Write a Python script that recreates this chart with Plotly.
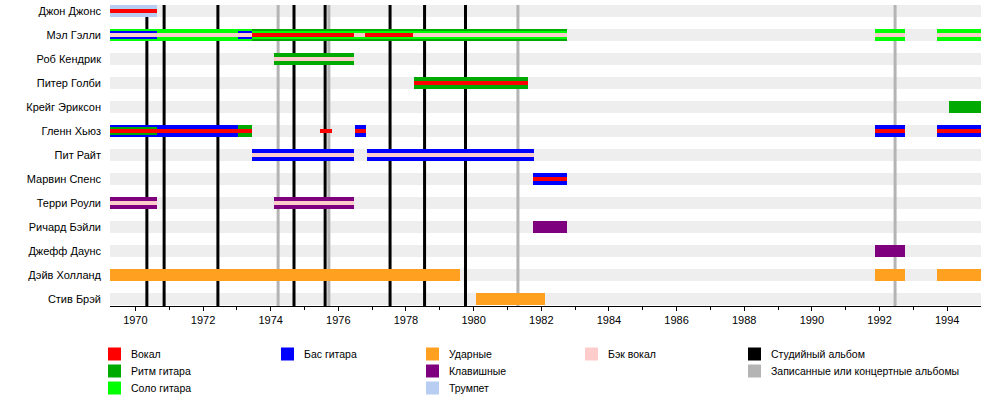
import plotly.graph_objects as go

# ---------------- data ----------------
members = ["Джон Джонс", "Мэл Гэлли", "Роб Кендрик", "Питер Голби", "Крейг Эриксон",
           "Гленн Хьюз", "Пит Райт", "Марвин Спенс", "Терри Роули", "Ричард Бэйли",
           "Джефф Даунс", "Дэйв Холланд", "Стив Брэй"]

timeline_start = 1969.25
timeline_end = 1995.0

roles = ["vocals", "rhythm", "lead", "bass", "drums", "keys", "trumpet", "backing", "studio", "live"]
role_labels = {"vocals": "Вокал", "rhythm": "Ритм гитара", "lead": "Соло гитара",
               "bass": "Бас гитара", "drums": "Ударные", "keys": "Клавишные",
               "trumpet": "Трумпет", "backing": "Бэк вокал",
               "studio": "Студийный альбом", "live": "Записанные или концертные альбомы"}

# primary (full-height) bars
main_member = ["Джон Джонс", "Мэл Гэлли", "Мэл Гэлли", "Мэл Гэлли", "Мэл Гэлли",
               "Роб Кендрик", "Питер Голби", "Крейг Эриксон",
               "Гленн Хьюз", "Гленн Хьюз", "Гленн Хьюз", "Гленн Хьюз", "Гленн Хьюз",
               "Пит Райт", "Пит Райт", "Марвин Спенс",
               "Терри Роули", "Терри Роули", "Ричард Бэйли", "Джефф Даунс",
               "Дэйв Холланд", "Дэйв Холланд", "Дэйв Холланд", "Стив Брэй"]
main_role = ["trumpet", "lead", "rhythm", "lead", "lead",
             "rhythm", "rhythm", "rhythm",
             "bass", "rhythm", "bass", "bass", "bass",
             "bass", "bass", "bass",
             "keys", "keys", "keys", "keys",
             "drums", "drums", "drums", "drums"]
main_from = [1969.25, 1969.25, 1973.46, 1991.86, 1993.69,
             1974.09, 1978.23, 1994.05,
             1969.25, 1973.03, 1976.48, 1991.86, 1993.69,
             1973.46, 1976.84, 1981.75,
             1969.25, 1974.09, 1981.75, 1991.86,
             1969.25, 1991.86, 1993.69, 1980.06]
main_till = [1970.65, 1973.46, 1982.76, 1992.75, 1995.0,
             1976.45, 1981.60, 1995.0,
             1973.03, 1973.46, 1976.81, 1992.75, 1995.0,
             1976.45, 1981.78, 1982.76,
             1970.65, 1976.45, 1982.76, 1992.75,
             1979.59, 1992.75, 1995.0, 1982.10]

# secondary (medium) bars
mid_member = ["Мэл Гэлли", "Мэл Гэлли", "Мэл Гэлли", "Гленн Хьюз"]
mid_role = ["bass", "bass", "lead", "rhythm"]
mid_from = [1969.25, 1973.03, 1973.46, 1969.25]
mid_till = [1970.65, 1973.46, 1982.76, 1970.65]

# tertiary (thin) bars
thin_member = ["Джон Джонс", "Мэл Гэлли", "Мэл Гэлли", "Мэл Гэлли", "Мэл Гэлли", "Мэл Гэлли",
               "Мэл Гэлли", "Мэл Гэлли", "Роб Кендрик", "Питер Голби",
               "Гленн Хьюз", "Гленн Хьюз", "Гленн Хьюз", "Гленн Хьюз", "Гленн Хьюз",
               "Пит Райт", "Пит Райт", "Марвин Спенс", "Терри Роули", "Терри Роули"]
thin_role = ["vocals", "backing", "vocals", "backing", "vocals", "backing",
             "backing", "backing", "backing", "vocals",
             "vocals", "vocals", "vocals", "vocals", "vocals",
             "backing", "backing", "vocals", "backing", "backing"]
thin_from = [1969.25, 1969.25, 1973.46, 1976.45, 1976.78, 1978.22,
             1991.86, 1993.69, 1974.09, 1978.23,
             1969.25, 1975.45, 1976.48, 1991.86, 1993.69,
             1973.46, 1976.84, 1981.75, 1969.25, 1974.09]
thin_till = [1970.65, 1973.46, 1976.45, 1976.78, 1978.22, 1982.76,
             1992.75, 1995.0, 1976.45, 1981.60,
             1973.46, 1975.80, 1976.81, 1992.75, 1995.0,
             1976.45, 1981.78, 1982.76, 1970.65, 1976.45]

studio_albums = [1970.34, 1970.85, 1972.44, 1974.69, 1975.61, 1977.53, 1978.55, 1979.76]
live_albums = [1974.22, 1975.72, 1981.31, 1992.46]

year_ticks = list(range(1970, 1995, 2))

# legend layout (columns of role keys)
legend_columns = [["vocals", "rhythm", "lead"], ["bass"], ["drums", "keys", "trumpet"],
                  ["backing"], ["studio", "live"]]

# ---------------- styles ----------------
role_colors = {"vocals": "#ff0000", "rhythm": "#00aa00", "lead": "#00ff00",
               "bass": "#0000ff", "drums": "#ffa020", "keys": "#7f007f",
               "trumpet": "#b8cdf2", "backing": "#ffcccc",
               "studio": "#000000", "live": "#b4b4b4"}
FONT = "Liberation Sans, Arial, sans-serif"
W, H = 1000, 395
ML, MR, MT, MB = 110, 19, 0, 89
PH = H - MT - MB
ROW_PX = 24.0
y_top = -(11.0 / ROW_PX)
y_bot = y_top + PH / ROW_PX

fig = go.Figure()

levels = [(main_member, main_role, main_from, main_till, 0.5),
          (mid_member, mid_role, mid_from, mid_till, 1 / 3),
          (thin_member, thin_role, thin_from, thin_till, 1 / 6)]
for mem, rol, f, t, w in levels:
    for r in roles:
        idx = [i for i in range(len(mem)) if rol[i] == r]
        if not idx:
            continue
        fig.add_trace(go.Bar(
            y=[members.index(mem[i]) for i in idx],
            base=[f[i] for i in idx],
            x=[t[i] - f[i] for i in idx],
            width=w, orientation="h",
            marker=dict(color=role_colors[r], line=dict(width=0)),
            showlegend=False, hoverinfo="skip"))

shapes = []
for i in range(len(members)):
    shapes.append(dict(type="rect", xref="x", yref="y", x0=timeline_start, x1=timeline_end,
                       y0=i - 0.25, y1=i + 0.25, fillcolor="#eeeeee",
                       line=dict(width=0), layer="below"))
for yr in live_albums:
    shapes.append(dict(type="line", xref="x", yref="y", x0=yr, x1=yr, y0=-0.25, y1=y_bot,
                       line=dict(color=role_colors["live"], width=3), layer="below"))
for yr in studio_albums:
    shapes.append(dict(type="line", xref="x", yref="y", x0=yr, x1=yr, y0=-0.25, y1=y_bot,
                       line=dict(color=role_colors["studio"], width=3), layer="below"))

# legend (pixel helpers)
def px_x(px):
    return (px - ML) / (W - ML - MR)

def px_y(py):
    return (H - MB - py) / PH

legend_col_x = [108, 281, 426, 585, 748]
legend_row_y = [354, 371, 388]
annotations = []
for c, col in enumerate(legend_columns):
    for r, key in enumerate(col):
        cx, cy = legend_col_x[c], legend_row_y[r]
        shapes.append(dict(type="rect", xref="paper", yref="paper",
                           x0=px_x(cx), x1=px_x(cx + 13), y0=px_y(cy + 6.5), y1=px_y(cy - 6.5),
                           fillcolor=role_colors[key], line=dict(width=0)))
        annotations.append(dict(xref="paper", yref="paper", x=px_x(cx + 21), y=px_y(cy),
                                text=role_labels[key], showarrow=False, xanchor="left",
                                yanchor="middle", font=dict(family=FONT, size=10.5, color="#000")))

fig.update_layout(
    width=W, height=H, margin=dict(l=ML, r=MR, t=MT, b=MB, pad=0),
    barmode="overlay", bargap=0,
    plot_bgcolor="white", paper_bgcolor="white",
    shapes=shapes, annotations=annotations,
    font=dict(family=FONT, size=11, color="#000"),
    xaxis=dict(range=[timeline_start, timeline_end], tickmode="array", tickvals=year_ticks,
               ticktext=[str(y) for y in year_ticks], showgrid=False, zeroline=False,
               showline=True, linecolor="#000", linewidth=1, ticks="outside", ticklen=4,
               tickcolor="#000", tickfont=dict(family=FONT, size=11, color="#000"),
               minor=dict(tickmode="array", tickvals=list(range(1971, 1995, 2)),
                          ticks="outside", ticklen=3, tickcolor="#000")),
    yaxis=dict(range=[y_bot, y_top], tickmode="array", tickvals=list(range(len(members))),
               ticktext=members, showgrid=False, zeroline=False, showline=False,
               ticks="", ticklabelstandoff=8,
               tickfont=dict(family=FONT, size=11, color="#000")),
)

fig.write_html("out.html", config={"displayModeBar": False, "staticPlot": True},
               post_script="document.body.style.margin='0';document.body.style.overflow='hidden';")
